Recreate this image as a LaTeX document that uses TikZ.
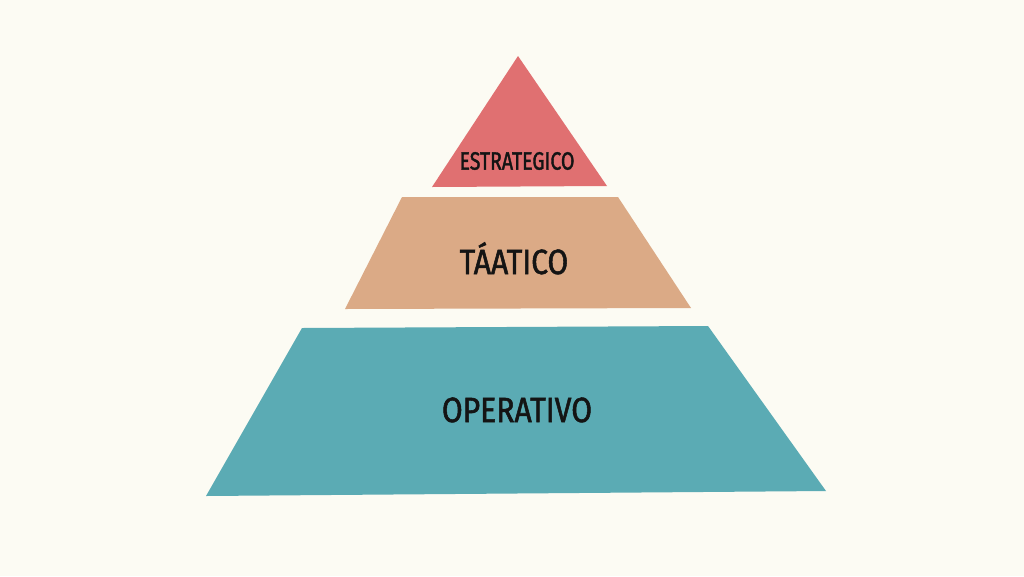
\documentclass[tikz,border=0pt]{standalone}
\usepackage{fontspec}
\newfontfamily\handfont[FakeStretch=0.78,FakeBold=1.5]{Fira Sans}
\newfontfamily\handwide[FakeStretch=0.86,FakeBold=1.5]{Fira Sans}
\definecolor{bgcream}{HTML}{FCFBF3}
\definecolor{toprose}{HTML}{E07071}
\definecolor{midtan}{HTML}{DBAA86}
\definecolor{baseteal}{HTML}{5BABB4}
\definecolor{inkblack}{HTML}{141414}
\tikzset{
  layerlabel/.style={text=inkblack,font=\handfont\fontsize{#1}{#1}\selectfont,inner sep=0pt},
  widelabel/.style={text=inkblack,font=\handwide\fontsize{#1}{#1}\selectfont,inner sep=0pt},
}
\begin{document}
\begin{tikzpicture}[x=1pt,y=-1pt]
\fill[bgcream] (0,0) rectangle (1024,576);
\useasboundingbox (0,0) rectangle (1024,576);
% top triangle
\fill[toprose] (518,56) -- (607,186) -- (432,187) -- cycle;
% middle trapezoid
\fill[midtan] (402,197) -- (618,197) -- (691,308) -- (345,309) -- cycle;
% bottom trapezoid
\fill[baseteal] (302,328) -- (708,326) -- (826,491) -- (206,496) -- cycle;
\node[layerlabel=25] (estr) at (517,161) {ESTRATEGICO};
\node[widelabel=35, anchor=base] (tact) at (514,274) {TÁATICO};
\node[widelabel=35, anchor=base] (oper) at (517,422) {OPERATIVO};
\end{tikzpicture}
\end{document}
